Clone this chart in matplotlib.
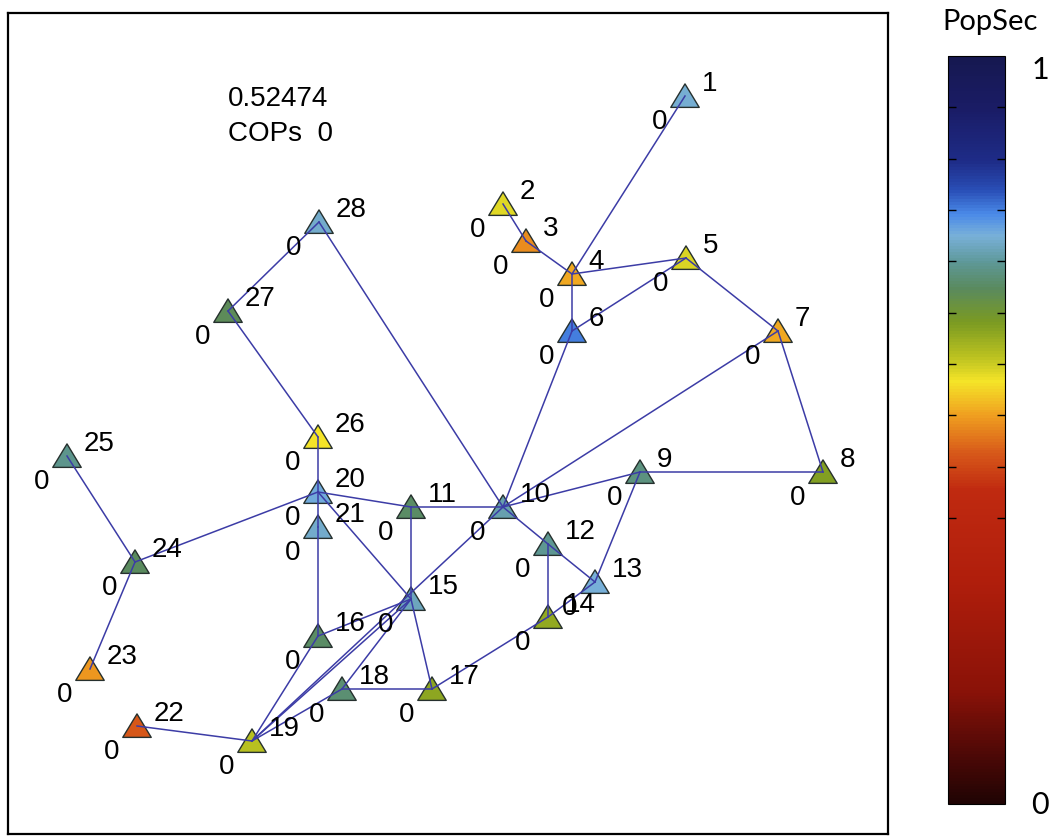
import numpy as np
import matplotlib
matplotlib.use("Agg")
import matplotlib.pyplot as plt
from matplotlib.colors import LinearSegmentedColormap, Normalize
from matplotlib.path import Path
import matplotlib.cm as cm

plt.rcParams['font.family'] = ['Liberation Sans', 'DejaVu Sans']

# ---- data ----
node_ids = list(range(1, 29))
node_x = [677, 495, 518, 564, 678, 564, 770, 815, 632, 495, 403, 540, 587, 540,
          403, 310, 424, 334, 244, 310, 310, 129, 82, 127, 59, 310, 220, 311]
node_y = [738, 630, 593, 560, 576, 503, 503, 362, 362, 327, 327, 290, 252, 217,
          235, 198, 145, 145, 93, 342, 307, 108, 165, 272, 378, 397, 523, 612]
popsec = [0.755, 0.575, 0.505, 0.525, 0.58, 0.795, 0.525, 0.64, 0.71, 0.735,
          0.695, 0.72, 0.76, 0.625, 0.745, 0.695, 0.63, 0.70, 0.60, 0.765,
          0.75, 0.465, 0.515, 0.69, 0.715, 0.565, 0.685, 0.75]
cops = [0] * 28
edges = [(1, 4), (2, 3), (3, 4), (4, 5), (4, 6), (5, 6), (5, 7), (6, 10), (7, 10),
         (7, 8), (8, 9), (9, 10), (9, 13), (10, 12), (12, 13), (12, 14), (13, 14),
         (14, 17), (10, 19), (10, 11), (10, 28), (20, 11), (11, 15), (26, 20),
         (20, 21), (21, 16), (20, 15), (20, 24), (24, 25), (24, 23), (22, 19),
         (19, 16), (19, 15), (19, 18), (18, 15), (16, 15), (15, 17), (18, 17),
         (27, 28), (27, 26)]
score_text = "0.52474"
cops_text = "COPs  0"
cbar_label = "PopSec"

# ---- colormap ----
cstops = [(0.00, '#200404'), (0.06, '#4a0806'), (0.15, '#8a1208'), (0.30, '#b01e0c'),
          (0.42, '#c02a10'), (0.47, '#d85a1a'), (0.52, '#f0a020'), (0.565, '#f4e428'),
          (0.60, '#b8c020'), (0.645, '#7a9a22'), (0.69, '#5a8a5e'), (0.725, '#5e9898'),
          (0.76, '#78b0d8'), (0.79, '#4a8ae8'), (0.82, '#2a50b8'), (0.86, '#1e2c88'),
          (0.93, '#1a1c66'), (1.00, '#161850')]
cmap = LinearSegmentedColormap.from_list('popsec', cstops)
norm = Normalize(0, 1)

fig = plt.figure(figsize=(10.56, 8.37), dpi=100)
ax = fig.add_axes([8 / 1056, 2 / 837, 880 / 1056, 821 / 837])
ax.set_xlim(0, 880)
ax.set_ylim(0, 821)
ax.set_xticks([])
ax.set_yticks([])
for s in ax.spines.values():
    s.set_linewidth(1.6)
    s.set_color('black')

pos = {n: (x, y) for n, x, y in zip(node_ids, node_x, node_y)}
for a, b in edges:
    ax.plot([pos[a][0], pos[b][0]], [pos[a][1], pos[b][1]],
            color='#3c3ca6', lw=1.1, zorder=3)

tri = Path([(-1, -0.8), (1, -0.8), (0, 0.85), (-1, -0.8)],
           [Path.MOVETO, Path.LINETO, Path.LINETO, Path.CLOSEPOLY])
ax.scatter(node_x, node_y, c=popsec, cmap=cmap, norm=norm, marker=tri, s=420,
           edgecolors='#26302e', linewidths=1.0, zorder=2)

FS = 20
for n, x, y, c in zip(node_ids, node_x, node_y, cops):
    ax.annotate(str(n), (x, y), xytext=(12, 9.5), textcoords='offset points',
                ha='left', va='center', fontsize=FS, zorder=4)
    ax.annotate(str(c), (x, y), xytext=(-18, -18), textcoords='offset points',
                ha='center', va='center', fontsize=FS, zorder=4)

ax.text(220, 736, score_text, ha='left', va='center', fontsize=FS)
ax.text(220, 701, cops_text, ha='left', va='center', fontsize=FS)

# ---- colorbar ----
cax = fig.add_axes([948 / 1056, 32 / 837, 57 / 1056, 748 / 837])
sm = cm.ScalarMappable(norm=norm, cmap=cmap)
cb = fig.colorbar(sm, cax=cax)
cb.outline.set_linewidth(0.8)
tick_vals = [1 - 0.0686 * i for i in range(1, 10)]
cb.set_ticks(tick_vals)
cb.set_ticklabels([''] * len(tick_vals))
cax.tick_params(axis='y', direction='in', length=6, width=1.0, color='black',
                left=True, right=True)
fig.text(990 / 1056, 1 - 22 / 837, cbar_label, ha='center', va='center',
         fontsize=21, family=['Lato', 'DejaVu Sans'])
fig.text(1040 / 1056, 1 - 70 / 837, '1', ha='center', va='center',
         fontsize=22, family=['Lato', 'DejaVu Sans'])
fig.text(1040 / 1056, 1 - 805 / 837, '0', ha='center', va='center',
         fontsize=22, family=['Lato', 'DejaVu Sans'])

fig.savefig('out.png', dpi=100)
